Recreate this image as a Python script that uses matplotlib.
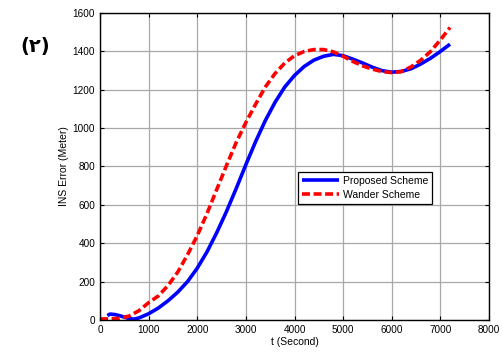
import numpy as np
import matplotlib
matplotlib.use('Agg')
import matplotlib.pyplot as plt

plt.rcParams['font.family'] = ['Liberation Sans', 'DejaVu Sans']

# proposed scheme (blue)
t_prop = [150, 200, 300, 400, 500, 600, 700, 800, 1000, 1200, 1400, 1600, 1800,
          2000, 2200, 2400, 2600, 2800, 3000, 3200, 3400, 3600, 3800, 4000,
          4200, 4400, 4600, 4800, 5000, 5200, 5400, 5600, 5800, 6000, 6200,
          6400, 6600, 6800, 7000, 7200]
err_prop = [22, 30, 28, 22, 14, 6, 4, 10, 32, 62, 100, 145, 200,
            270, 355, 455, 565, 685, 810, 930, 1040, 1135, 1215, 1275,
            1322, 1355, 1375, 1385, 1378, 1360, 1340, 1318, 1300, 1292, 1296,
            1310, 1335, 1365, 1400, 1438]

# wander scheme (red dashed)
t_wand = [0, 200, 400, 600, 800, 1000, 1200, 1400, 1600, 1800, 2000, 2200,
          2400, 2600, 2800, 3000, 3200, 3400, 3600, 3800, 4000, 4200, 4400,
          4600, 4800, 5000, 5200, 5400, 5600, 5800, 6000, 6200, 6400, 6600,
          6800, 7000, 7200]
err_wand = [5, 5, 8, 20, 48, 90, 125, 180, 250, 340, 440, 555,
            680, 805, 925, 1030, 1125, 1215, 1285, 1340, 1378, 1400, 1410,
            1410, 1398, 1375, 1348, 1325, 1308, 1295, 1290, 1295, 1320, 1355,
            1400, 1460, 1525]

fig = plt.figure(figsize=(5.03, 3.55), dpi=100)
ax = fig.add_axes([0.199, 0.099, 0.773, 0.864])

ax.plot(t_prop, err_prop, color='#0000ff', lw=2.6, label='Proposed Scheme',
        solid_capstyle='butt')
ax.plot(t_wand, err_wand, color='#ff0000', lw=2.6, ls='--', dashes=(2.2, 1.0),
        label='Wander Scheme')

ax.set_xlim(0, 8000)
ax.set_ylim(0, 1600)
ax.set_xticks(np.arange(0, 8001, 1000))
ax.set_yticks(np.arange(0, 1601, 200))
ax.grid(True, color='#a8a8a8', lw=0.9)
ax.set_axisbelow(True)
ax.tick_params(direction='in', top=True, right=True, labelsize=7.2, length=3)
for s in ax.spines.values():
    s.set_linewidth(1.0)

ax.set_xlabel('t (Second)', fontsize=7.5, labelpad=2)
ax.set_ylabel('INS Error (Meter)', fontsize=7.5, labelpad=3)

leg = ax.legend(loc='upper left', bbox_to_anchor=(0.496, 0.498), fontsize=7.5,
                fancybox=False, framealpha=1, edgecolor='black',
                handlelength=3.6, borderpad=0.35, labelspacing=0.4,
                handletextpad=0.4)
leg.get_frame().set_linewidth(0.9)

fig.text(0.07, 0.87, '(\u0662)', fontsize=14, fontweight='bold',
         family=['DejaVu Sans'], ha='center', va='center')

fig.savefig('out.png', dpi=100)
